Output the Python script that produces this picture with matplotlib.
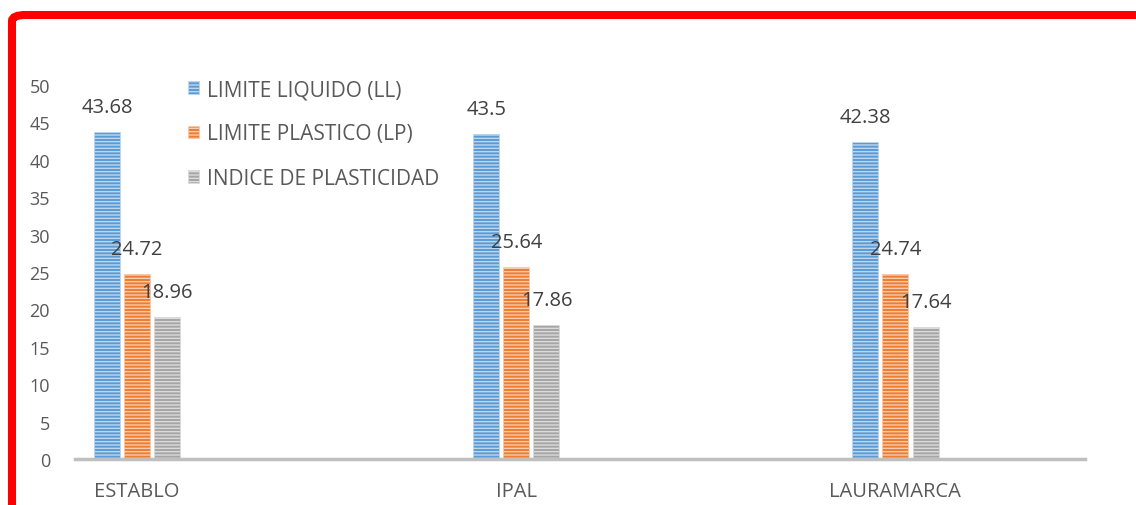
import numpy as np
import matplotlib.pyplot as plt
from matplotlib.patches import FancyBboxPatch

# ---   DATA   --- #
CATEGORIES = ['ESTABLO', 'IPAL', 'LAURAMARCA']
SERIES = ['LIMITE LIQUIDO (LL)', 'LIMITE PLASTICO (LP)', 'INDICE DE PLASTICIDAD']
LL = [43.68, 43.5, 42.38]
LP = [24.72, 25.64, 24.74]
IP = [18.96, 17.86, 17.64]
Y_TICKS = [0, 5, 10, 15, 20, 25, 30, 35, 40, 45, 50]

# ---   STYLE   --- #
FACE = ['#5B9BD5', '#ED7D31', '#A5A5A5']
HATCH = ['#BDD7EE', '#F8CBAD', '#DBDBDB']
plt.rcParams['font.family'] = ['Open Sans', 'DejaVu Sans']
plt.rcParams['hatch.linewidth'] = 1.0

W, H = 1136, 506
fig = plt.figure(figsize=(W / 100, H / 100), dpi=100)
ax = fig.add_axes([75 / W, 1 - 460 / H, (1085 - 75) / W, (460 - 86) / H])

x = np.arange(len(CATEGORIES))
width, pitch = 0.0686, 0.0795
for i, (vals, name) in enumerate(zip([LL, LP, IP], SERIES)):
    pos = x + (i - 1) * pitch
    bars = ax.bar(pos, vals, width, color=FACE[i], edgecolor=HATCH[i],
                  linewidth=0.6, hatch='-----', label=name, zorder=2)
    for b, v in zip(bars, vals):
        ax.annotate(f'{v:g}', (b.get_x() + b.get_width() / 2, v),
                    xytext=(0, 18), textcoords='offset points',
                    ha='center', va='center', fontsize=14.5,
                    color='#404040', zorder=5)

# Format axes
ax.set_xlim(-0.164, 2.50)
ax.set_ylim(0, 50)
ax.set_yticks(Y_TICKS)
ax.set_xticks(x)
ax.set_xticklabels(CATEGORIES)
ax.tick_params(axis='y', length=0, pad=18, labelsize=13, labelcolor='#595959')
ax.tick_params(axis='x', length=0, pad=16, labelsize=14.5, labelcolor='#595959')
for s in ['top', 'right', 'left']:
    ax.spines[s].set_visible(False)
ax.spines['bottom'].set_color('#BFBFBF')
ax.spines['bottom'].set_linewidth(2.5)
ax.spines['bottom'].set_zorder(3)

leg = ax.legend(loc='upper left', bbox_to_anchor=(188 / W, 1 - 80 / H),
                bbox_transform=fig.transFigure, frameon=False, fontsize=15,
                handlelength=0.55, handleheight=0.55, handletextpad=0.35,
                labelspacing=1.12, borderpad=0, borderaxespad=0)
for t in leg.get_texts():
    t.set_color('#595959')

# Red frame around chart
frame = FancyBboxPatch((12 / W, -0.2), 1.3, 1 - 16 / H + 0.2,
                       boxstyle='round,pad=0,rounding_size=0.012',
                       transform=fig.transFigure, facecolor='none',
                       edgecolor='#FF0000', linewidth=5.8, clip_on=False)
fig.patches.append(frame)

plt.savefig('out.png', dpi=100)
